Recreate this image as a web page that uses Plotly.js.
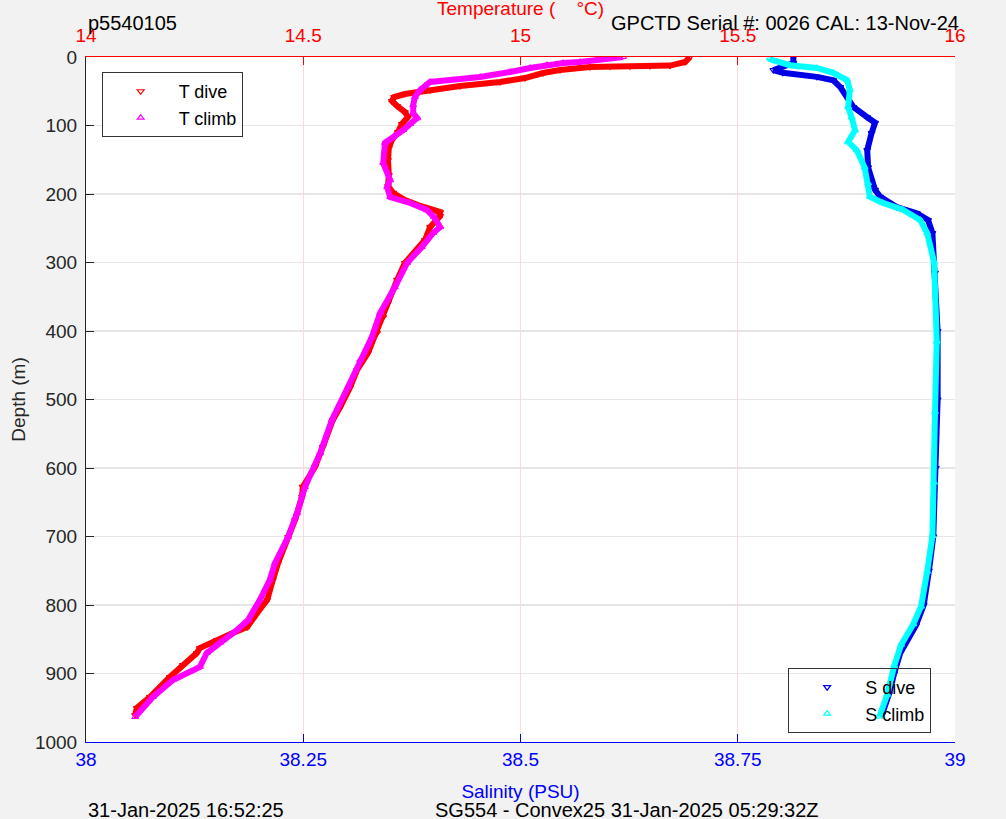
<!DOCTYPE html>
<html>
<head>
<meta charset="utf-8">
<script src="https://cdn.plot.ly/plotly-3.0.1.min.js"></script>
<style>
html,body{margin:0;padding:0;background:#f2f2f2;}
#chart{width:1006px;height:819px;}
</style>
</head>
<body>
<div id="chart"></div>
<script>
// ---- Data ----
const depthTDive = [0,7.3,12.5,13,13.5,14,14.6,19,23.4,30.7,36.5,42.3,48.2,54,58.4,64.2,71.5,80.3,87.6,97.8,109.5,121.2,132.8,150.4,172.3,188.3,198.5,208.8,216.1,226.3,232.1,248.2,267.2,300.7,325.5,359.1,379.6,402.9,432.1,456.9,481.8,511,529.9,569.3,598.5,627.7,642.3,675.9,700.7,738.7,763.5,792.7,811.7,832.1,840.9,851.1,862.8,870.1,887.6,905.1,934.3,950.4,960.6];
const tempDive = [15.390,15.379,15.344,15.298,15.252,15.206,15.160,15.091,15.052,15.010,14.953,14.861,14.792,14.734,14.709,14.704,14.716,14.734,14.741,14.727,14.718,14.704,14.697,14.695,14.697,14.695,14.707,14.734,14.764,14.815,14.815,14.792,14.780,14.734,14.716,14.695,14.684,14.670,14.649,14.624,14.608,14.585,14.568,14.545,14.527,14.499,14.497,14.481,14.465,14.442,14.430,14.417,14.394,14.371,14.338,14.301,14.262,14.255,14.223,14.193,14.147,14.117,14.113];

const depthTClimb = [0,4.4,7.3,8.8,11.7,16.1,21.9,29.2,36.5,42.3,48.2,58.4,70.1,81.8,89.1,97.8,106.6,125.5,154.7,179.6,189.8,204.4,213.1,223.4,233.6,248.2,256.9,277.4,300.7,335.8,373.7,408.8,442.3,481.8,529.9,578.1,627.7,665.7,700.7,738.7,763.5,792.7,821.9,836.5,855.5,870.1,890.5,909.5,934.3,963.5];
const tempClimb = [15.236,15.183,15.137,15.098,15.061,15.022,14.976,14.907,14.792,14.780,14.769,14.757,14.753,14.753,14.762,14.746,14.730,14.688,14.684,14.700,14.693,14.700,14.746,14.785,14.801,14.815,14.799,14.773,14.739,14.711,14.677,14.658,14.631,14.603,14.566,14.539,14.504,14.486,14.465,14.435,14.423,14.400,14.373,14.348,14.308,14.278,14.262,14.200,14.154,14.113];

const depthSDive = [0,9,19,23,29,34,44,58,73,88,96,111,136,161,194,204,219,228,238,257,315,400,500,600,700,750,800,830,850,870,900,930,960];
const salDive = [38.814,38.814,38.791,38.802,38.841,38.860,38.868,38.876,38.883,38.899,38.908,38.904,38.899,38.900,38.908,38.914,38.933,38.956,38.969,38.974,38.977,38.980,38.980,38.978,38.975,38.970,38.964,38.955,38.945,38.937,38.930,38.924,38.916];

const depthSClimb = [2,4,12,16,23,34,48,73,88,107,124,136,161,184,204,213,223,238,257,300,415,518,621,699,751,802,828,858,889,931,963];
const salClimb = [38.787,38.789,38.810,38.841,38.860,38.876,38.879,38.877,38.881,38.885,38.877,38.887,38.896,38.900,38.902,38.917,38.940,38.960,38.968,38.976,38.979,38.977,38.976,38.974,38.968,38.961,38.952,38.938,38.930,38.922,38.913];

const depthTicks = [0,100,200,300,400,500,600,700,800,900,1000];
const salTicks = [38,38.25,38.5,38.75,39];
const salTickText = ['38','38.25','38.5','38.75','39'];
const tempTicks = [14,14.5,15,15.5,16];
const tempTickText = ['14','14.5','15','15.5','16'];

// ---- Styling ----
const FONT = 'Liberation Sans, Arial, sans-serif';
const FS = 19;
const FA = 20;
const DARK = '#262626';

function pair(x, y, xa, color, symbol, name, legend){
  return [
    {x:x, y:y, xaxis:xa, yaxis:'y', mode:'lines', line:{color:color, width:6},
     showlegend:false, hoverinfo:'skip'},
    {x:x, y:y, xaxis:xa, yaxis:'y', mode:'markers', name:name, legend:legend,
     marker:{color:color, symbol:symbol, size:6, line:{color:color, width:1.2}}}
  ];
}

const data = [].concat(
  pair(tempDive, depthTDive, 'x2', '#ff0000', 'triangle-down-open', 'T dive', 'legend'),
  pair(tempClimb, depthTClimb, 'x2', '#ff00ff', 'triangle-up-open', 'T climb', 'legend'),
  pair(salDive, depthSDive, 'x', '#0000e6', 'triangle-down-open', 'S dive', 'legend2'),
  pair(salClimb, depthSClimb, 'x', '#00ffff', 'triangle-up-open', 'S climb', 'legend2')
);

const layout = {
  width:1006, height:819,
  paper_bgcolor:'#f2f2f2', plot_bgcolor:'#ffffff',
  margin:{l:86, r:51, t:57, b:77, pad:0},
  font:{family:FONT, size:FS, color:DARK},
  showlegend:true,
  xaxis:{
    range:[38,39], tickvals:salTicks, ticktext:salTickText,
    showline:true, linecolor:'#0000ff', linewidth:1,
    ticks:'inside', ticklen:8, tickcolor:'#0000ff', tickwidth:1,
    tickfont:{color:'#0000ff', size:FS, family:FONT},
    showgrid:false, zeroline:false,
    title:{text:'Salinity (PSU)', font:{color:'#0000ff', size:FS, family:FONT}, standoff:15}
  },
  xaxis2:{
    overlaying:'x', side:'top', anchor:'y',
    range:[14,16], tickvals:tempTicks, ticktext:tempTickText,
    showline:true, linecolor:'#ff0000', linewidth:1,
    ticks:'inside', ticklen:8, tickcolor:'#ff0000', tickwidth:1,
    tickfont:{color:'#ff0000', size:FS, family:FONT},
    ticklabelstandoff:6,
    showgrid:true, gridcolor:'#ffd9d9', gridwidth:1, zeroline:false
  },
  yaxis:{
    range:[1000,0], tickvals:depthTicks,
    showline:true, linecolor:DARK, linewidth:1,
    ticks:'inside', ticklen:8, tickcolor:DARK,
    tickfont:{color:DARK, size:FS, family:FONT},
    ticklabelstandoff:4,
    showgrid:true, gridcolor:'#e6e6e6', gridwidth:1.3, zeroline:false,
    title:{text:'Depth (m)', font:{color:DARK, size:FS, family:FONT}, standoff:4}
  },
  yaxis2:{
    overlaying:'y', side:'right', anchor:'x',
    range:[1000,0], tickvals:depthTicks,
    showline:true, linecolor:DARK, linewidth:1,
    ticks:'inside', ticklen:8, tickcolor:DARK,
    tickfont:{color:DARK, size:FS, family:FONT},
    showgrid:false, zeroline:false
  },
  legend:{
    x:0.018, y:0.978, xanchor:'left', yanchor:'top',
    bgcolor:'#ffffff', bordercolor:'#333333', borderwidth:1,
    font:{color:'#000000', size:18, family:FONT}, itemwidth:66
  },
  legend2:{
    x:0.808, y:0.108, xanchor:'left', yanchor:'top',
    bgcolor:'rgba(255,255,255,0)', bordercolor:'#333333', borderwidth:1,
    font:{color:'#000000', size:18, family:FONT}, itemwidth:66
  },
  annotations:[
    {text:'Temperature (\u00a0\u00a0\u00a0\u00a0°C)', xref:'paper', yref:'paper', x:0.5, y:1, xanchor:'center', yanchor:'middle',
     yshift:49, showarrow:false, font:{color:'#ff0000', size:FS, family:FONT}},
    {text:'p5540105', xref:'paper', yref:'paper', x:0, y:1, xanchor:'left', yanchor:'middle',
     yshift:34, showarrow:false, font:{color:'#000000', size:FA, family:FONT}},
    {text:'GPCTD Serial #: 0026 CAL: 13-Nov-24', xref:'paper', yref:'paper', x:1, y:1, xanchor:'right', yanchor:'middle',
     xshift:6, yshift:34, showarrow:false, font:{color:'#000000', size:FA, family:FONT}},
    {text:'31-Jan-2025 16:52:25', xref:'paper', yref:'paper', x:0, y:0, xanchor:'left', yanchor:'middle',
     yshift:-68, showarrow:false, font:{color:'#000000', size:FA, family:FONT}},
    {text:'SG554 - Convex25 31-Jan-2025 05:29:32Z', xref:'paper', yref:'paper', x:0.623, y:0, xanchor:'center', yanchor:'middle',
     yshift:-68, showarrow:false, font:{color:'#000000', size:FA, family:FONT}}
  ]
};

Plotly.newPlot('chart', data, layout, {displayModeBar:false, staticPlot:true});
</script>
</body>
</html>
